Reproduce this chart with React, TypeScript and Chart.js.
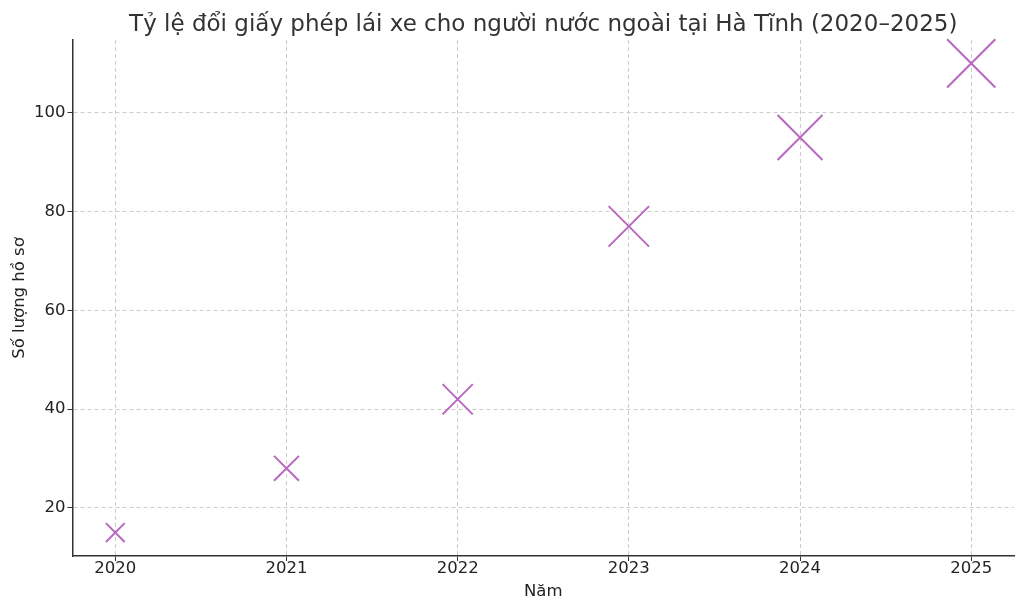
import { useRef, useEffect } from 'react'
import { Chart, registerables } from 'chart.js'

Chart.register(...registerables)

const YEARS = [2020, 2021, 2022, 2023, 2024, 2025]
const COUNTS = [15, 28, 42, 77, 95, 110]
const Y_TICKS = [20, 40, 60, 80, 100]

const TITLE = 'Tỷ lệ đổi giấy phép lái xe cho người nước ngoài tại Hà Tĩnh (2020–2025)'
const FONT = "'DejaVu Sans', sans-serif"
const MARKER = '#b968c0'

// marker grows with the value (matplotlib scatter size ~ value)
const markerRadius = (v: number) => Math.sqrt(5.2 * v + 10) / Math.SQRT1_2

const titlePlugin = {
  id: 'axesTitle',
  afterDraw(chart: Chart) {
    const { ctx, chartArea } = chart
    ctx.save()
    ctx.font = `23px ${FONT}`
    ctx.fillStyle = '#333333'
    ctx.textAlign = 'center'
    ctx.textBaseline = 'alphabetic'
    ctx.fillText(TITLE, (chartArea.left + chartArea.right) / 2, 31)
    ctx.restore()
  },
}

export default function App() {
  const canvasRef = useRef<HTMLCanvasElement>(null)

  useEffect(() => {
    if (!canvasRef.current) return
    const ctx = canvasRef.current.getContext('2d')
    if (!ctx) return

    const chart = new Chart(ctx, {
      type: 'scatter',
      data: {
        datasets: [
          {
            data: YEARS.map((y, i) => ({ x: y, y: COUNTS[i] })),
            pointStyle: 'crossRot',
            borderColor: MARKER,
            backgroundColor: MARKER,
            pointBorderWidth: 2,
            pointRadius: (c: any) => markerRadius(COUNTS[c.dataIndex] ?? 0),
            clip: false,
          },
        ],
      },
      options: {
        animation: false,
        responsive: true,
        maintainAspectRatio: false,
        devicePixelRatio: 1,
        layout: { autoPadding: false, padding: { top: 40, right: 10, left: 0, bottom: 0 } },
        plugins: {
          legend: { display: false },
          tooltip: { enabled: false },
          title: { display: false },
        },
        scales: {
          x: {
            type: 'linear',
            min: 2019.75,
            max: 2025.25,
            afterBuildTicks: (s: any) => {
              s.ticks = YEARS.map((v) => ({ value: v }))
            },
            afterFit: (s: any) => {
              s.height = 55
              s.paddingLeft = 0
              s.paddingRight = 0
            },
            ticks: {
              color: '#222222',
              font: { family: FONT, size: 16.5 },
              padding: -2,
              maxRotation: 0,
              callback: (v: any) => String(v),
            },
            grid: {
              color: '#cccccc',
              lineWidth: 1,
              tickColor: '#333333',
              tickLength: 5,
              tickBorderDash: [],
            },
            border: { color: '#333333', width: 1.5, dash: [4, 3] },
            title: {
              display: true,
              text: 'Năm',
              color: '#222222',
              font: { family: FONT, size: 16.5 },
              padding: { top: 0, bottom: 9 },
            },
          },
          y: {
            type: 'linear',
            min: 10.25,
            max: 114.75,
            afterBuildTicks: (s: any) => {
              s.ticks = Y_TICKS.map((v) => ({ value: v }))
            },
            afterFit: (s: any) => {
              s.width = 72.5
              s.paddingTop = 0
              s.paddingBottom = 0
            },
            ticks: {
              color: '#222222',
              font: { family: FONT, size: 16.5 },
              padding: 2,
            },
            grid: {
              color: '#cccccc',
              lineWidth: 1,
              tickColor: '#333333',
              tickLength: 5,
              tickBorderDash: [],
            },
            border: { color: '#333333', width: 1.5, dash: [4, 3] },
            title: {
              display: true,
              text: 'Số lượng hồ sơ',
              color: '#222222',
              font: { family: FONT, size: 16.5 },
              padding: { top: 10, bottom: 0 },
            },
          },
        },
      },
      plugins: [titlePlugin],
    })

    return () => {
      chart.destroy()
    }
  }, [])

  return (
    <div style={{ position: 'fixed', left: 0, top: 0, width: 1024, height: 611, background: '#ffffff' }}>
      <canvas ref={canvasRef} />
    </div>
  )
}
